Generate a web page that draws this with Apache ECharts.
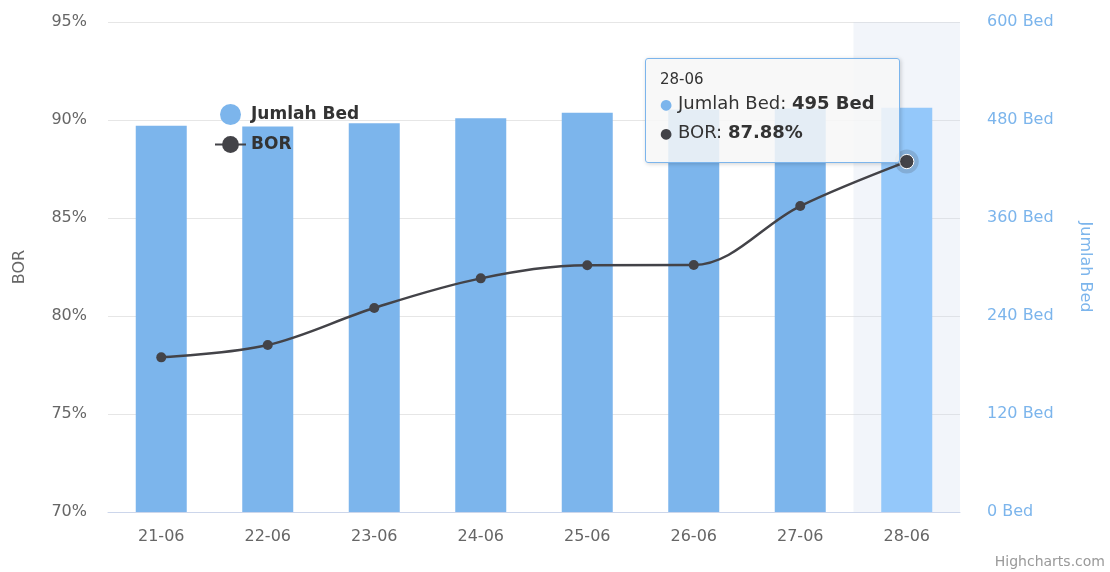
<!DOCTYPE html>
<html>
<head>
<meta charset="utf-8">
<script src="https://cdn.jsdelivr.net/npm/echarts@6/dist/echarts.min.js"></script>
<style>
html,body{margin:0;padding:0;background:#fff;}
#chart{width:1110px;height:572px;}
</style>
</head>
<body>
<div id="chart"></div>
<script>
const categories = ['21-06','22-06','23-06','24-06','25-06','26-06','27-06','28-06'];
const jumlahBed = [473, 472, 476, 482, 489, 493, 494, 495];
const bor = [77.89, 78.52, 80.41, 81.92, 82.59, 82.60, 85.61, 87.88];
const borTicks = [70, 75, 80, 85, 90, 95];
const bedTicks = [0, 120, 240, 360, 480, 600];
const activeIndex = 7;

const FONT = '"DejaVu Sans", Verdana, sans-serif';
const chart = echarts.init(document.getElementById('chart'), null, {renderer:'canvas'});

const barData = jumlahBed.map((v, i) => i === activeIndex ? {value: v, itemStyle: {color: '#94c8fa'}} : v);
const lineData = bor.map((v, i) => i === activeIndex ? {value: v, symbolSize: 13, itemStyle: {borderColor: '#ffffff', borderWidth: 1}} : v);
const haloData = bor.map((v, i) => i === activeIndex ? v : '-');

const option = {
  animation: false,
  textStyle: {fontFamily: FONT},
  grid: {left: 108, right: 150, top: 22, bottom: 60, containLabel: false},
  legend: {
    orient: 'vertical', left: 209, top: 99,
    itemWidth: 31, itemHeight: 21, itemGap: 11,
    textStyle: {fontFamily: FONT, fontSize: 17, fontWeight: 'bold', color: '#333333'},
    data: [{name: 'Jumlah Bed', icon: 'circle'}, {name: 'BOR'}]
  },
  tooltip: {
    trigger: 'axis',
    triggerOn: 'none',
    alwaysShowContent: true,
    transitionDuration: 0,
    axisPointer: {type: 'shadow', shadowStyle: {color: 'rgba(204,214,235,0.25)'}, z: 0},
    backgroundColor: 'rgba(247,247,247,0.85)',
    borderColor: '#7cb5ec', borderWidth: 1,
    padding: [10, 10, 10, 14],
    extraCssText: 'border-radius:3px;box-shadow:1px 1px 4px rgba(0,0,0,0.18);width:229px;height:83px;',
    position: function(){ return [645, 58]; },
    formatter: function(params){
      const idx = params[0].dataIndex;
      return '<div style="font-family:' + FONT.replace(/"/g,"'") + ';color:#333;white-space:nowrap;">' +
        '<div style="font-size:15px;line-height:20px;">' + categories[idx] + '</div>' +
        '<div style="font-size:18px;line-height:27px;"><span style="color:#7cb5ec;font-size:14px;">\u25CF</span> Jumlah Bed: <b>' + jumlahBed[idx] + ' Bed</b></div>' +
        '<div style="font-size:18px;line-height:27px;"><span style="color:#434348;font-size:14px;">\u25CF</span> BOR: <b>' + bor[idx].toFixed(2) + '%</b></div>' +
        '</div>';
    }
  },
  xAxis: {
    type: 'category', data: categories, boundaryGap: true,
    axisLine: {lineStyle: {color: '#ccd6eb', width: 1}},
    axisTick: {show: false},
    axisLabel: {color: '#666666', fontSize: 16, margin: 17, fontFamily: FONT}
  },
  yAxis: [
    {
      type: 'value', min: borTicks[0], max: borTicks[borTicks.length-1], interval: 5, position: 'left',
      name: 'BOR', nameLocation: 'middle', nameRotate: 90, nameGap: 80,
      nameTextStyle: {color: '#666666', fontSize: 16, fontFamily: FONT},
      axisLine: {show: false}, axisTick: {show: false},
      axisLabel: {color: '#666666', fontSize: 16, margin: 21, formatter: '{value}%', fontFamily: FONT},
      splitLine: {lineStyle: {color: '#e6e6e6', width: 1}}
    },
    {
      type: 'value', min: bedTicks[0], max: bedTicks[bedTicks.length-1], interval: 120, position: 'right',
      name: 'Jumlah Bed', nameLocation: 'middle', nameRotate: -90, nameGap: 117,
      nameTextStyle: {color: '#7cb5ec', fontSize: 16, fontFamily: FONT},
      axisLine: {show: false}, axisTick: {show: false},
      axisLabel: {color: '#7cb5ec', fontSize: 16, margin: 27, formatter: '{value} Bed', fontFamily: FONT},
      splitLine: {show: false}
    }
  ],
  series: [
    {
      name: 'Jumlah Bed', type: 'bar', yAxisIndex: 1, data: barData,
      barWidth: 51, itemStyle: {color: '#7cb5ec'}, z: 2, emphasis: {disabled: true}
    },
    {
      name: 'BOR', type: 'line', yAxisIndex: 0, data: lineData, smooth: 0.35,
      symbol: 'circle', symbolSize: 10, showSymbol: true,
      lineStyle: {color: '#434348', width: 2.5},
      itemStyle: {color: '#434348'}, z: 4, emphasis: {disabled: true}
    },
    {
      name: 'halo', type: 'scatter', yAxisIndex: 0, data: haloData,
      symbolSize: 24, itemStyle: {color: 'rgba(67,67,72,0.25)'}, z: 3, silent: true, emphasis: {disabled: true}
    }
  ],
  graphic: [
    {type: 'text', right: 5, bottom: 3, style: {text: 'Highcharts.com', fill: '#999999', font: '14px ' + FONT}}
  ]
};
chart.setOption(option);
chart.dispatchAction({type: 'showTip', seriesIndex: 0, dataIndex: activeIndex});
</script>
</body>
</html>
